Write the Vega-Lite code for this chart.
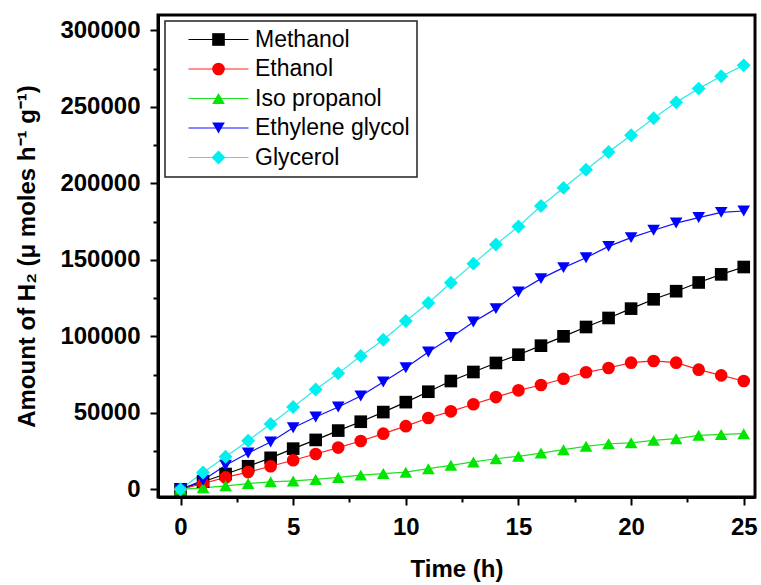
{
  "$schema": "https://vega.github.io/schema/vega-lite/v6.json",
  "width": 597,
  "height": 482,
  "autosize": {"type": "none"},
  "padding": {"left": 158, "top": 15, "right": 6, "bottom": 88},
  "background": "white",
  "config": {
    "view": {"stroke": "black", "strokeWidth": 3},
    "axis": {
      "grid": false,
      "domainColor": "black",
      "domainWidth": 3,
      "tickColor": "black",
      "tickWidth": 2,
      "labelFont": "Liberation Sans",
      "labelFontWeight": "bold",
      "labelFontSize": 24,
      "labelColor": "black",
      "titleFont": "Liberation Sans",
      "titleFontWeight": "bold",
      "titleFontSize": 24,
      "titleColor": "black",
      "labelOverlap": false,
      "labelFlush": false
    },
    "legend": {"strokeWidth": 1.5}
  },
  "data": {
    "values": [
      {"name": "Methanol", "t": 0, "v": 0},
      {"name": "Methanol", "t": 1, "v": 5000},
      {"name": "Methanol", "t": 2, "v": 10000},
      {"name": "Methanol", "t": 3, "v": 15100},
      {"name": "Methanol", "t": 4, "v": 20600},
      {"name": "Methanol", "t": 5, "v": 26600},
      {"name": "Methanol", "t": 6, "v": 32300},
      {"name": "Methanol", "t": 7, "v": 38400},
      {"name": "Methanol", "t": 8, "v": 44200},
      {"name": "Methanol", "t": 9, "v": 50500},
      {"name": "Methanol", "t": 10, "v": 57000},
      {"name": "Methanol", "t": 11, "v": 63800},
      {"name": "Methanol", "t": 12, "v": 70800},
      {"name": "Methanol", "t": 13, "v": 76700},
      {"name": "Methanol", "t": 14, "v": 82600},
      {"name": "Methanol", "t": 15, "v": 88000},
      {"name": "Methanol", "t": 16, "v": 93900},
      {"name": "Methanol", "t": 17, "v": 100000},
      {"name": "Methanol", "t": 18, "v": 106100},
      {"name": "Methanol", "t": 19, "v": 112000},
      {"name": "Methanol", "t": 20, "v": 118100},
      {"name": "Methanol", "t": 21, "v": 124200},
      {"name": "Methanol", "t": 22, "v": 129500},
      {"name": "Methanol", "t": 23, "v": 135200},
      {"name": "Methanol", "t": 24, "v": 140500},
      {"name": "Methanol", "t": 25, "v": 145300},
      {"name": "Ethanol", "t": 0, "v": 0},
      {"name": "Ethanol", "t": 1, "v": 3800},
      {"name": "Ethanol", "t": 2, "v": 7800},
      {"name": "Ethanol", "t": 3, "v": 11300},
      {"name": "Ethanol", "t": 4, "v": 15100},
      {"name": "Ethanol", "t": 5, "v": 19000},
      {"name": "Ethanol", "t": 6, "v": 23100},
      {"name": "Ethanol", "t": 7, "v": 27300},
      {"name": "Ethanol", "t": 8, "v": 31600},
      {"name": "Ethanol", "t": 9, "v": 36400},
      {"name": "Ethanol", "t": 10, "v": 41300},
      {"name": "Ethanol", "t": 11, "v": 46600},
      {"name": "Ethanol", "t": 12, "v": 51000},
      {"name": "Ethanol", "t": 13, "v": 55600},
      {"name": "Ethanol", "t": 14, "v": 60300},
      {"name": "Ethanol", "t": 15, "v": 64700},
      {"name": "Ethanol", "t": 16, "v": 68200},
      {"name": "Ethanol", "t": 17, "v": 72300},
      {"name": "Ethanol", "t": 18, "v": 76500},
      {"name": "Ethanol", "t": 19, "v": 79300},
      {"name": "Ethanol", "t": 20, "v": 82800},
      {"name": "Ethanol", "t": 21, "v": 83900},
      {"name": "Ethanol", "t": 22, "v": 82800},
      {"name": "Ethanol", "t": 23, "v": 78200},
      {"name": "Ethanol", "t": 24, "v": 74500},
      {"name": "Ethanol", "t": 25, "v": 70800},
      {"name": "Iso propanol", "t": 0, "v": 0},
      {"name": "Iso propanol", "t": 1, "v": 1000},
      {"name": "Iso propanol", "t": 2, "v": 2300},
      {"name": "Iso propanol", "t": 3, "v": 3800},
      {"name": "Iso propanol", "t": 4, "v": 4900},
      {"name": "Iso propanol", "t": 5, "v": 5500},
      {"name": "Iso propanol", "t": 6, "v": 6500},
      {"name": "Iso propanol", "t": 7, "v": 7800},
      {"name": "Iso propanol", "t": 8, "v": 9300},
      {"name": "Iso propanol", "t": 9, "v": 10300},
      {"name": "Iso propanol", "t": 10, "v": 11200},
      {"name": "Iso propanol", "t": 11, "v": 13500},
      {"name": "Iso propanol", "t": 12, "v": 15700},
      {"name": "Iso propanol", "t": 13, "v": 17900},
      {"name": "Iso propanol", "t": 14, "v": 20000},
      {"name": "Iso propanol", "t": 15, "v": 21600},
      {"name": "Iso propanol", "t": 16, "v": 23700},
      {"name": "Iso propanol", "t": 17, "v": 25900},
      {"name": "Iso propanol", "t": 18, "v": 28100},
      {"name": "Iso propanol", "t": 19, "v": 29800},
      {"name": "Iso propanol", "t": 20, "v": 30400},
      {"name": "Iso propanol", "t": 21, "v": 32000},
      {"name": "Iso propanol", "t": 22, "v": 33100},
      {"name": "Iso propanol", "t": 23, "v": 35300},
      {"name": "Iso propanol", "t": 24, "v": 35900},
      {"name": "Iso propanol", "t": 25, "v": 36400},
      {"name": "Ethylene glycol", "t": 0, "v": 0},
      {"name": "Ethylene glycol", "t": 1, "v": 5900},
      {"name": "Ethylene glycol", "t": 2, "v": 15700},
      {"name": "Ethylene glycol", "t": 3, "v": 23700},
      {"name": "Ethylene glycol", "t": 4, "v": 30900},
      {"name": "Ethylene glycol", "t": 5, "v": 40300},
      {"name": "Ethylene glycol", "t": 6, "v": 47300},
      {"name": "Ethylene glycol", "t": 7, "v": 53800},
      {"name": "Ethylene glycol", "t": 8, "v": 61000},
      {"name": "Ethylene glycol", "t": 9, "v": 70100},
      {"name": "Ethylene glycol", "t": 10, "v": 79500},
      {"name": "Ethylene glycol", "t": 11, "v": 89800},
      {"name": "Ethylene glycol", "t": 12, "v": 99200},
      {"name": "Ethylene glycol", "t": 13, "v": 109400},
      {"name": "Ethylene glycol", "t": 14, "v": 118100},
      {"name": "Ethylene glycol", "t": 15, "v": 129000},
      {"name": "Ethylene glycol", "t": 16, "v": 137700},
      {"name": "Ethylene glycol", "t": 17, "v": 144900},
      {"name": "Ethylene glycol", "t": 18, "v": 151400},
      {"name": "Ethylene glycol", "t": 19, "v": 158800},
      {"name": "Ethylene glycol", "t": 20, "v": 164500},
      {"name": "Ethylene glycol", "t": 21, "v": 169300},
      {"name": "Ethylene glycol", "t": 22, "v": 174000},
      {"name": "Ethylene glycol", "t": 23, "v": 177600},
      {"name": "Ethylene glycol", "t": 24, "v": 181000},
      {"name": "Ethylene glycol", "t": 25, "v": 181900},
      {"name": "Glycerol", "t": 0, "v": 0},
      {"name": "Glycerol", "t": 1, "v": 11000},
      {"name": "Glycerol", "t": 2, "v": 21300},
      {"name": "Glycerol", "t": 3, "v": 31800},
      {"name": "Glycerol", "t": 4, "v": 42700},
      {"name": "Glycerol", "t": 5, "v": 53800},
      {"name": "Glycerol", "t": 6, "v": 65300},
      {"name": "Glycerol", "t": 7, "v": 75800},
      {"name": "Glycerol", "t": 8, "v": 87200},
      {"name": "Glycerol", "t": 9, "v": 97800},
      {"name": "Glycerol", "t": 10, "v": 110000},
      {"name": "Glycerol", "t": 11, "v": 121800},
      {"name": "Glycerol", "t": 12, "v": 135000},
      {"name": "Glycerol", "t": 13, "v": 147500},
      {"name": "Glycerol", "t": 14, "v": 160000},
      {"name": "Glycerol", "t": 15, "v": 171800},
      {"name": "Glycerol", "t": 16, "v": 185200},
      {"name": "Glycerol", "t": 17, "v": 197000},
      {"name": "Glycerol", "t": 18, "v": 208900},
      {"name": "Glycerol", "t": 19, "v": 220500},
      {"name": "Glycerol", "t": 20, "v": 231400},
      {"name": "Glycerol", "t": 21, "v": 242500},
      {"name": "Glycerol", "t": 22, "v": 252900},
      {"name": "Glycerol", "t": 23, "v": 261900},
      {"name": "Glycerol", "t": 24, "v": 270000},
      {"name": "Glycerol", "t": 25, "v": 277100}
    ]
  },
  "encoding": {
    "x": {
      "field": "t",
      "type": "quantitative",
      "scale": {"domain": [-1, 25.5], "nice": false, "zero": false},
      "axis": {
        "values": [0, 2.5, 5, 7.5, 10, 12.5, 15, 17.5, 20, 22.5, 25],
        "labelExpr": "datum.value % 5 === 0 ? datum.label : ''",
        "tickSize": {"condition": {"test": "datum.value % 5 === 0", "value": 8}, "value": 5},
        "labelPadding": 10,
        "title": "Time (h)",
        "titlePadding": 18
      }
    },
    "y": {
      "field": "v",
      "type": "quantitative",
      "scale": {"domain": [-5000, 310000], "nice": false, "zero": false},
      "axis": {
        "values": [0, 25000, 50000, 75000, 100000, 125000, 150000, 175000, 200000, 225000, 250000, 275000, 300000],
        "format": "d",
        "labelExpr": "datum.value % 50000 === 0 ? datum.label : ''",
        "tickSize": {"condition": {"test": "datum.value % 50000 === 0", "value": 8}, "value": 5},
        "labelPadding": 10,
        "title": "Amount of H₂ (μ moles h⁻¹ g⁻¹)",
        "titlePadding": 20
      }
    }
  },
  "layer": [
    {
      "mark": {"type": "line", "strokeWidth": 1.2},
      "encoding": {
        "stroke": {
          "field": "name",
          "type": "nominal",
          "sort": ["Methanol", "Ethanol", "Iso propanol", "Ethylene glycol", "Glycerol"],
          "scale": {
            "range": ["#000000", "#ff2020", "#20e020", "#1010ff", "#30e8e8"]
          },
          "legend": {
            "orient": "none",
            "legendX": 7,
            "legendY": 6,
            "title": null,
            "padding": 7,
            "symbolType": "M-5,0H5",
            "symbolSize": 144,
            "symbolStrokeWidth": 1.2,
            "symbolOffset": 35,
            "labelOffset": 25,
            "rowPadding": 5.5,
            "labelFont": "Liberation Sans",
            "labelFontSize": 23,
            "labelColor": "black",
            "labelLimit": 400,
            "strokeColor": "#222222"
          }
        }
      }
    },
    {
      "mark": {"type": "point", "filled": true, "size": 160, "opacity": 1},
      "encoding": {
        "color": {
          "field": "name",
          "type": "nominal",
          "scale": {
            "domain": ["Methanol", "Ethanol", "Iso propanol", "Ethylene glycol", "Glycerol"],
            "range": ["#000000", "#ff0000", "#00e600", "#0000ff", "#00f0f0"]
          },
          "legend": {
            "orient": "none",
            "legendX": 7,
            "legendY": 6,
            "title": null,
            "padding": 7,
            "symbolSize": 160,
            "symbolStrokeWidth": 0,
            "symbolOffset": 35,
            "labelOffset": 25,
            "rowPadding": 5.5,
            "labelFont": "Liberation Sans",
            "labelFontSize": 23,
            "labelOpacity": 0
          }
        },
        "shape": {
          "field": "name",
          "type": "nominal",
          "scale": {
            "domain": ["Methanol", "Ethanol", "Iso propanol", "Ethylene glycol", "Glycerol"],
            "range": ["square", "circle", "triangle-up", "triangle-down", "M-1.1,0L0,-1.1L1.1,0L0,1.1Z"]
          },
          "legend": {
            "orient": "none",
            "legendX": 7,
            "legendY": 6,
            "title": null,
            "padding": 7,
            "symbolSize": 160,
            "symbolStrokeWidth": 0,
            "symbolOffset": 35,
            "labelOffset": 25,
            "rowPadding": 5.5,
            "labelFont": "Liberation Sans",
            "labelFontSize": 23,
            "labelOpacity": 0
          }
        }
      }
    }
  ]
}
